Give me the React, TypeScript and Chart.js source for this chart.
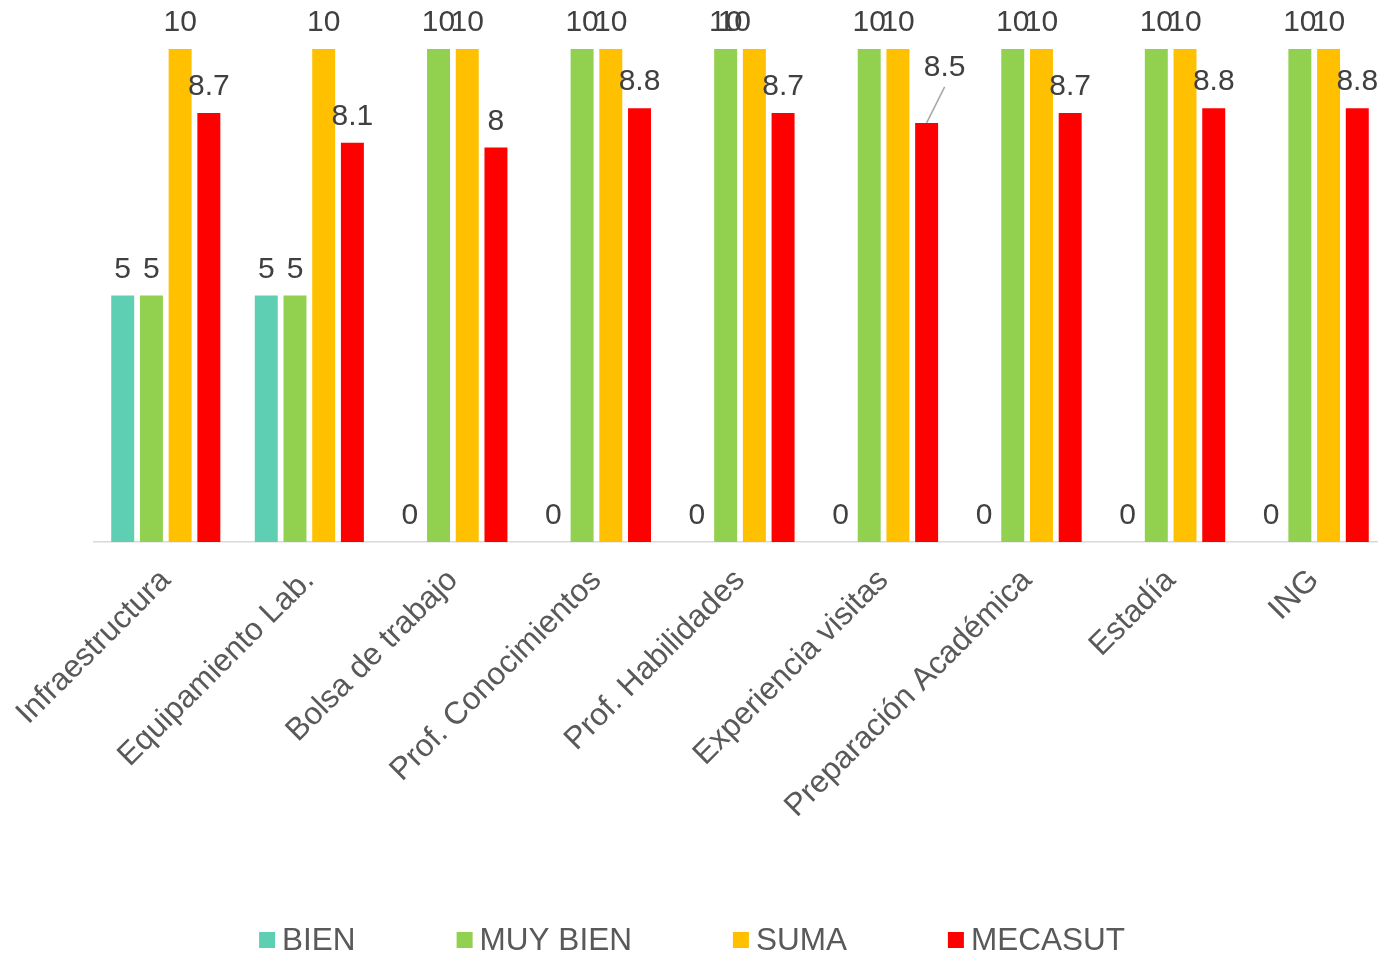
import React, { useEffect, useRef } from 'react';
import { Chart, registerables } from 'chart.js';

Chart.register(...registerables);

const categories = [
  'Infraestructura',
  'Equipamiento Lab.',
  'Bolsa de trabajo',
  'Prof. Conocimientos',
  'Prof. Habilidades',
  'Experiencia visitas',
  'Preparación Académica',
  'Estadía',
  'ING',
];
const bien = [5, 5, 0, 0, 0, 0, 0, 0, 0];
const muyBien = [5, 5, 10, 10, 10, 10, 10, 10, 10];
const suma = [10, 10, 10, 10, 10, 10, 10, 10, 10];
const mecasut = [8.7, 8.1, 8, 8.8, 8.7, 8.5, 8.7, 8.8, 8.8];
const seriesNames = ['BIEN', 'MUY BIEN', 'SUMA', 'MECASUT'];
const seriesColors = ['#5FCFB4', '#92D050', '#FFC000', '#FF0000'];

const FONT = '"Liberation Sans", Arial, sans-serif';

// Label placement tweaks (mirroring the original's collision handling)
const labelNudges: Record<string, { dx: number; dy: number; leader?: boolean }> = {
  '2-4': { dx: -20, dy: 0 },
  '3-5': { dx: 18, dy: -29, leader: true },
};

const dataLabelPlugin = {
  id: 'dataLabels',
  afterDatasetsDraw(chart: any) {
    const ctx = chart.ctx;
    ctx.save();
    ctx.font = `30px ${FONT}`;
    ctx.fillStyle = '#404040';
    ctx.textAlign = 'center';
    ctx.textBaseline = 'alphabetic';
    chart.data.datasets.forEach((ds: any, di: number) => {
      const meta = chart.getDatasetMeta(di);
      meta.data.forEach((el: any, i: number) => {
        const v = ds.data[i];
        const n = labelNudges[`${di}-${i}`] || { dx: 0, dy: 0 };
        const x = el.x + n.dx;
        const y = el.y - 18 + n.dy;
        if (n.leader) {
          ctx.save();
          ctx.strokeStyle = '#A6A6A6';
          ctx.lineWidth = 1.5;
          ctx.beginPath();
          ctx.moveTo(el.x, el.y);
          ctx.lineTo(x, y + 11);
          ctx.stroke();
          ctx.restore();
        }
        ctx.fillText(String(v), x, y);
      });
    });
    ctx.restore();
  },
};

const legendPlugin = {
  id: 'customLegend',
  afterDraw(chart: any) {
    const ctx = chart.ctx;
    ctx.save();
    ctx.font = `31.5px ${FONT}`;
    ctx.textBaseline = 'middle';
    ctx.textAlign = 'left';
    const box = 16;
    const gapText = 7;
    const gapItem = 101;
    const widths = chart.data.datasets.map((d: any) => box + gapText + ctx.measureText(d.label).width);
    const total = widths.reduce((a: number, b: number) => a + b, 0) + gapItem * (widths.length - 1);
    let x = 692 - total / 2;
    const cy = 940;
    chart.data.datasets.forEach((d: any, i: number) => {
      ctx.fillStyle = d.backgroundColor;
      ctx.fillRect(x, cy - box / 2, box, box);
      ctx.fillStyle = '#595959';
      ctx.fillText(d.label, x + box + gapText, cy + 1);
      x += widths[i] + gapItem;
    });
    ctx.restore();
  },
};

export default function App() {
  const ref = useRef<HTMLCanvasElement | null>(null);

  useEffect(() => {
    document.body.style.margin = '0';
    const seriesData = [bien, muyBien, suma, mecasut];
    const chart = new Chart(ref.current as HTMLCanvasElement, {
      type: 'bar',
      data: {
        labels: categories,
        datasets: seriesNames.map((name, i) => ({
          label: name,
          data: seriesData[i],
          backgroundColor: seriesColors[i],
          borderWidth: 0,
          barPercentage: 0.8,
          categoryPercentage: 0.8,
        })),
      },
      options: {
        animation: false,
        responsive: true,
        maintainAspectRatio: false,
        layout: { padding: { top: 49, left: 94, right: 0, bottom: 116 } },
        plugins: {
          legend: { display: false },
          tooltip: { enabled: false },
        },
        scales: {
          x: {
            grid: { display: false, drawTicks: false },
            border: { display: true, color: '#D9D9D9', width: 1.5 },
            ticks: {
              color: '#595959',
              font: { size: 31.5, family: FONT },
              maxRotation: 45,
              minRotation: 45,
              autoSkip: false,
              padding: 20,
            },
            afterFit: (scale: any) => {
              scale.height = 300;
              scale.paddingLeft = 0;
              scale.paddingRight = 0;
            },
          },
          y: {
            display: false,
            min: 0,
            max: 10,
          },
        },
      },
      plugins: [dataLabelPlugin, legendPlugin],
    });
    return () => chart.destroy();
  }, []);

  return (
    <div style={{ width: 1378, height: 958, overflow: 'hidden' }}>
      <div style={{ position: 'relative', width: 1386, height: 958 }}>
        <canvas ref={ref} />
      </div>
    </div>
  );
}
